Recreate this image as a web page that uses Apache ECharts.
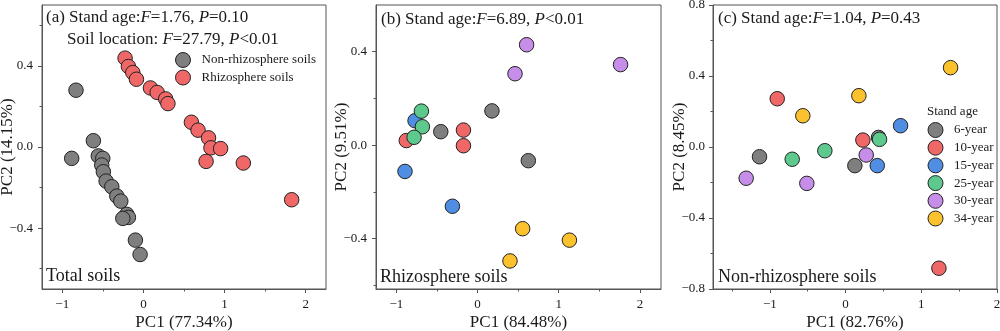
<!DOCTYPE html>
<html>
<head>
<meta charset="utf-8">
<script src="https://cdn.jsdelivr.net/npm/echarts@6/dist/echarts.min.js"></script>
<style>
  html, body { margin: 0; padding: 0; background: #fff; }
  #chart { width: 1000px; height: 331px; }
</style>
</head>
<body>
<div id="chart"></div>
<script>
// PCA scores [PC1, PC2]

// (a) Total soils, by soil location
const totalNonRhizo = [
  [-0.831, 0.280], [-0.617, 0.031], [-0.884, -0.056], [-0.556, -0.044],
  [-0.501, -0.056], [-0.514, -0.089], [-0.494, -0.122], [-0.460, -0.168],
  [-0.390, -0.196], [-0.328, -0.242], [-0.279, -0.267], [-0.205, -0.332],
  [-0.185, -0.347], [-0.254, -0.352], [-0.099, -0.459], [-0.041, -0.530]
];
const totalRhizo = [
  [-0.226, 0.438], [-0.185, 0.397], [-0.131, 0.367], [-0.086, 0.334],
  [0.086, 0.291], [0.169, 0.269], [0.274, 0.237], [0.302, 0.214],
  [0.591, 0.122], [0.673, 0.083], [0.802, 0.045], [0.832, -0.004],
  [0.951, -0.008], [0.772, -0.071], [1.231, -0.079], [1.827, -0.260]
];

// (b) Rhizosphere soils, by stand age
const rhizoAge6  = [[0.178, 0.147], [-0.452, 0.058], [0.626, -0.066]];
const rhizoAge10 = [[-0.173, 0.065], [-0.173, -0.002], [-0.877, 0.020]];
const rhizoAge15 = [[-0.769, 0.105], [-0.893, -0.112], [-0.309, -0.261]];
const rhizoAge25 = [[-0.691, 0.146], [-0.679, 0.079], [-0.781, 0.034]];
const rhizoAge30 = [[0.605, 0.430], [0.462, 0.306], [1.762, 0.345]];
const rhizoAge34 = [[0.556, -0.357], [1.132, -0.406], [0.400, -0.495]];

// (c) Non-rhizosphere soils, by stand age
const nonRhizoAge6  = [[-1.136, -0.055], [0.123, -0.105], [0.436, 0.054]];
const nonRhizoAge10 = [[-0.902, 0.272], [0.229, 0.039], [1.233, -0.683]];
const nonRhizoAge15 = [[0.727, 0.120], [0.419, -0.105]];
const nonRhizoAge25 = [[-0.704, -0.069], [-0.273, -0.021], [0.449, 0.043]];
const nonRhizoAge30 = [[-1.312, -0.176], [-0.511, -0.205], [0.273, -0.045]];
const nonRhizoAge34 = [[1.387, 0.447], [0.176, 0.289], [-0.564, 0.176]];

const standAges = ['6-year', '10-year', '15-year', '25-year', '30-year', '34-year'];
const ageColors = ['#7f7f7f', '#f06767', '#4f8ee3', '#5dc98d', '#c68ee8', '#fbc22e'];
const locationNames = ['Non-rhizosphere soils', 'Rhizosphere soils'];

// tick labels
const xTicks = [-1, 0, 1, 2];
const xMinorAB = [-0.5, 0.5, 1.5];
const xMinorC = [-1.5, -0.5, 0.5, 1.5];
const yTicksAB = [-0.4, 0, 0.4];
const yMinorA = [-0.6, -0.2, 0.2, 0.6];
const yMinorB = [-0.6, -0.2, 0.2];
const yTicksC = [-0.8, -0.4, 0, 0.4, 0.8];
const yMinorC = [-0.6, -0.2, 0.2, 0.6];

const FONT = 'Liberation Serif';
const INK = '#1a1a1a';
const FRAME = '#555';

const signed = (v, d) => (v < 0 ? '\u2212' : '') + Math.abs(v).toFixed(d);

const grids = [
  { left: 42, top: 5, width: 284, height: 284 },
  { left: 376, top: 5, width: 285, height: 284 },
  { left: 713, top: 5, width: 284, height: 284 }
];

function majorAxis(gi, min, max, ticks, digits, name, nameGap, margin) {
  return {
    type: 'value', gridIndex: gi, min: min, max: max,
    name: name, nameLocation: 'middle', nameGap: nameGap, nameMoveOverlap: false,
    nameTextStyle: { fontFamily: FONT, fontSize: 17, color: INK },
    axisLine: { show: true, onZero: false, lineStyle: { color: FRAME, width: 1 } },
    axisTick: { show: true, inside: false, length: 4, customValues: ticks, lineStyle: { color: FRAME } },
    axisLabel: {
      show: true, customValues: ticks, fontFamily: FONT, fontSize: 13, color: INK, margin: margin,
      formatter: v => signed(v, digits)
    },
    splitLine: { show: false }
  };
}
function minorAxis(gi, min, max, ticks) {
  return {
    type: 'value', gridIndex: gi, min: min, max: max,
    axisLine: { show: false, onZero: false },
    axisTick: { show: true, inside: false, length: 2.5, customValues: ticks, lineStyle: { color: FRAME } },
    axisLabel: { show: false },
    splitLine: { show: false }
  };
}

const xAxes = [
  majorAxis(0, -1.25, 2.25, xTicks, 0, 'PC1 (77.34%)', 25, 9), minorAxis(0, -1.25, 2.25, xMinorAB),
  majorAxis(1, -1.25, 2.26, xTicks, 0, 'PC1 (84.48%)', 25, 9), minorAxis(1, -1.25, 2.26, xMinorAB),
  majorAxis(2, -1.75, 2.0, xTicks, 0, 'PC1 (82.76%)', 25, 9), minorAxis(2, -1.75, 2.0, xMinorC)
];
xAxes.forEach(a => a.position = 'bottom');
const yAxes = [
  majorAxis(0, -0.7, 0.7, yTicksAB, 1, 'PC2 (14.15%)', 26, 9), minorAxis(0, -0.7, 0.7, yMinorA),
  majorAxis(1, -0.615, 0.6, yTicksAB, 1, 'PC2 (9.51%)', 26, 9), minorAxis(1, -0.615, 0.6, yMinorB),
  majorAxis(2, -0.8, 0.8, yTicksC, 1, 'PC2 (8.45%)', 25, 8), minorAxis(2, -0.8, 0.8, yMinorC)
];
yAxes.forEach(a => a.position = 'left');

function scatter(name, data, color, gi) {
  return {
    type: 'scatter', name: name, data: data,
    xAxisIndex: gi * 2, yAxisIndex: gi * 2,
    symbol: 'circle', symbolSize: 14.5,
    itemStyle: { color: color, borderColor: '#222', borderWidth: 1, opacity: 1 },
    emphasis: { disabled: true }
  };
}

const rhizoByAge = [rhizoAge6, rhizoAge10, rhizoAge15, rhizoAge25, rhizoAge30, rhizoAge34];
const nonRhizoByAge = [nonRhizoAge6, nonRhizoAge10, nonRhizoAge15, nonRhizoAge25, nonRhizoAge30, nonRhizoAge34];

const series = [
  scatter(locationNames[0], totalNonRhizo, ageColors[0], 0),
  scatter(locationNames[1], totalRhizo, ageColors[1], 0)
];
standAges.forEach((age, i) => series.push(scatter(age, rhizoByAge[i], ageColors[i], 1)));
standAges.forEach((age, i) => series.push(scatter(age, nonRhizoByAge[i], ageColors[i], 2)));

const rich = {
  n: { fontFamily: FONT, fontSize: 17, fill: INK, color: INK },
  i: { fontFamily: FONT, fontSize: 17, fontStyle: 'italic', fill: INK, color: INK }
};
function note(x, y, text) {
  return {
    type: 'text', left: x, top: y, silent: true,
    style: { text: text, rich: rich, font: '17px "' + FONT + '"', fill: INK, verticalAlign: 'top' }
  };
}
function plain(x, y, text, size) {
  return {
    type: 'text', left: x, top: y, silent: true,
    style: { text: text, font: size + 'px "' + FONT + '"', fill: INK }
  };
}

const legendBase = {
  orient: 'vertical', padding: 0,
  icon: 'circle', itemWidth: 15, itemHeight: 15,
  itemStyle: { borderColor: '#222', borderWidth: 1 },
  textStyle: { fontFamily: FONT, fontSize: 13, color: INK, padding: [0, 0, 0, 6] },
  selectedMode: false
};

const option = {
  animation: false,
  backgroundColor: '#fff',
  grid: grids.map(g => Object.assign({
    show: true, borderColor: FRAME, borderWidth: 1, backgroundColor: 'transparent',
    containLabel: false, outerBoundsMode: 'none'
  }, g)),
  xAxis: xAxes,
  yAxis: yAxes,
  series: series,
  legend: [
    Object.assign({}, legendBase, { data: locationNames, left: 175, top: 52, itemGap: 1.5 }),
    Object.assign({}, legendBase, { data: standAges, left: 927.5, top: 122, itemGap: 1.7 })
  ],
  graphic: [
    note(46, 9, '{n|(a) Stand age:}{i|F}{n|=1.76, }{i|P}{n|=0.10}'),
    note(67, 31, '{n|Soil location: }{i|F}{n|=27.79, }{i|P}{n|<0.01}'),
    note(381, 11, '{n|(b) Stand age:}{i|F}{n|=6.89, }{i|P}{n|<0.01}'),
    note(718, 10, '{n|(c) Stand age:}{i|F}{n|=1.04, }{i|P}{n|=0.43}'),
    plain(46, 267, 'Total soils', 18),
    plain(380, 268, 'Rhizosphere soils', 18),
    plain(718, 268, 'Non-rhizosphere soils', 18),
    plain(927, 105, 'Stand age', 13)
  ]
};

const chart = echarts.init(document.getElementById('chart'), null, { renderer: 'canvas' });
chart.setOption(option);
</script>
</body>
</html>
